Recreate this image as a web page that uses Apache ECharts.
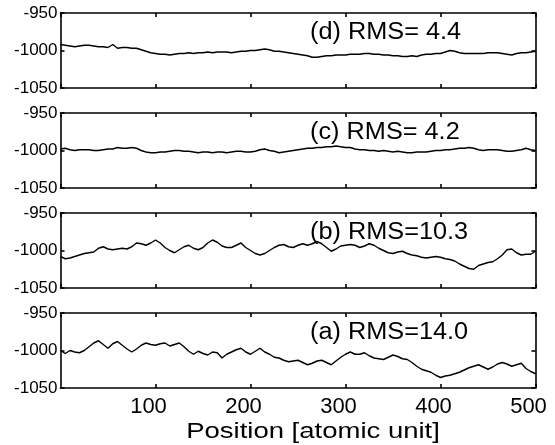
<!DOCTYPE html>
<html><head><meta charset="utf-8">
<script src="https://cdn.jsdelivr.net/npm/echarts@6/dist/echarts.min.js"></script>
<style>html,body{margin:0;padding:0;background:#fff}#c{width:555px;height:445px}</style>
</head><body><div id="c"></div>
<script>
// Positions (atomic units), shared by all panels
var positions = [];
for (var p = 0; p <= 500; p += 5) positions.push(p);

var seriesD = [-992,-993,-994,-995,-994,-993,-993,-994,-995,-995,-996,-992,-997,-996,-996,-997,-997,-999,-1001,-1003,
 -1004,-1005,-1005,-1006,-1005,-1004,-1004,-1003,-1004,-1003,-1003,-1002,-1003,-1002,-1002,-1002,-1003,-1002,-1001,-1001,
 -1000,-1000,-999,-998,-999,-1001,-1001,-1002,-1003,-1004,-1005,-1006,-1007,-1009,-1009,-1008,-1007,-1007,-1006,-1006,
 -1006,-1005,-1005,-1005,-1004,-1004,-1005,-1005,-1006,-1006,-1007,-1007,-1008,-1008,-1007,-1008,-1006,-1005,-1005,-1004,
 -1004,-1002,-1000,-1001,-1003,-1004,-1004,-1004,-1004,-1004,-1003,-1003,-1003,-1004,-1005,-1006,-1004,-1003,-1003,-1002,-1001];

var seriesC = [-998,-997,-999,-1000,-999,-999,-999,-1000,-1000,-999,-998,-998,-996,-997,-997,-996,-997,-1000,-1002,-1003,
 -1003,-1002,-1002,-1001,-1000,-1000,-1001,-1001,-1002,-1003,-1002,-1002,-1003,-1002,-1002,-1003,-1002,-1001,-1001,-1002,
 -1002,-1001,-999,-998,-1000,-1001,-1003,-1002,-1001,-1000,-999,-998,-997,-997,-996,-996,-995,-995,-994,-995,
 -996,-996,-998,-999,-999,-1000,-1000,-1001,-1000,-1001,-1002,-1001,-1002,-1003,-1003,-1002,-1002,-1002,-1001,-1000,
 -1000,-999,-999,-998,-997,-997,-996,-997,-999,-1000,-999,-999,-999,-1000,-1001,-1001,-1000,-999,-997,-999,-1000];

var seriesB = [-1008,-1011,-1010,-1008,-1006,-1004,-1003,-1002,-997,-995,-998,-999,-998,-997,-998,-995,-990,-991,-993,-990,
 -986,-990,-996,-1000,-1003,-999,-995,-993,-997,-999,-996,-990,-986,-989,-994,-996,-996,-993,-990,-996,
 -1000,-1004,-1006,-1004,-1000,-996,-993,-992,-995,-996,-993,-991,-993,-991,-988,-991,-996,-1001,-998,-994,
 -993,-992,-993,-996,-994,-991,-993,-997,-1000,-1003,-1004,-1002,-1001,-1004,-1006,-1007,-1009,-1010,-1009,-1008,
 -1009,-1011,-1012,-1014,-1018,-1021,-1024,-1025,-1020,-1018,-1016,-1015,-1011,-1006,-999,-998,-1003,-1006,-1005,-1005,-1001];

var seriesA = [-1000,-1004,-1000,-1002,-1003,-1000,-995,-990,-987,-992,-997,-991,-988,-993,-998,-1002,-998,-993,-990,-992,
 -993,-991,-990,-994,-992,-990,-995,-1001,-1005,-1001,-1004,-1006,-1002,-1003,-1010,-1005,-1002,-999,-997,-1002,
 -1005,-1001,-997,-1002,-1005,-1009,-1010,-1013,-1015,-1014,-1013,-1016,-1019,-1017,-1014,-1013,-1016,-1019,-1014,-1009,
 -1005,-1002,-1005,-1005,-1003,-1007,-1010,-1011,-1012,-1009,-1006,-1008,-1011,-1012,-1016,-1021,-1025,-1027,-1029,-1033,
 -1036,-1034,-1033,-1031,-1029,-1026,-1023,-1021,-1019,-1022,-1025,-1022,-1018,-1016,-1018,-1021,-1019,-1017,-1024,-1028,-1031];

// Panels from top to bottom
var panelData = [seriesD, seriesC, seriesB, seriesA];
var panelLabels = ['(d) RMS= 4.4', '(c) RMS= 4.2', '(b) RMS=10.3', '(a) RMS=14.0'];
var xTicks = [0, 500, 100];      // min, max, interval
var yTicks = [-1050, -950, 50];  // min, max, interval
var xTitle = 'Position [atomic unit]';

var chart = echarts.init(document.getElementById('c'), null, {renderer: 'canvas'});
var FONT = 'Liberation Sans, Arial, sans-serif';
var grids = [], xAxes = [], yAxes = [], series = [], graphics = [];
var tops = [13, 113, 213, 313];
var lineStyle = {color: '#000', width: 1.6};
panelData.forEach(function (vals, i) {
  grids.push({left: 60.5, width: 475, top: tops[i], height: 75, containLabel: false});
  var isBottom = (i === panelData.length - 1);
  xAxes.push({type: 'value', gridIndex: i, position: 'bottom', min: xTicks[0], max: xTicks[1], interval: xTicks[2],
    axisLine: {show: true, onZero: false, lineStyle: lineStyle},
    axisTick: {show: true, inside: true, length: 4, lineStyle: lineStyle},
    axisLabel: {show: isBottom, showMinLabel: false, color: '#000', fontSize: 22, fontFamily: FONT, margin: 8,
      padding: [0, 14, 0, 0]},
    splitLine: {show: false}});
  xAxes.push({type: 'value', gridIndex: i, position: 'top', min: xTicks[0], max: xTicks[1], interval: xTicks[2],
    axisLine: {show: true, onZero: false, lineStyle: lineStyle},
    axisTick: {show: true, inside: true, length: 4, lineStyle: lineStyle},
    axisLabel: {show: false}, splitLine: {show: false}});
  yAxes.push({type: 'value', gridIndex: i, position: 'left', min: yTicks[0], max: yTicks[1], interval: yTicks[2],
    axisLine: {show: true, onZero: false, lineStyle: lineStyle},
    axisTick: {show: true, inside: true, length: 4, lineStyle: lineStyle},
    axisLabel: {show: true, color: '#000', fontSize: 17, fontFamily: FONT, margin: 3,
      formatter: function (v) { return String(v); }},
    splitLine: {show: false}});
  yAxes.push({type: 'value', gridIndex: i, position: 'right', min: yTicks[0], max: yTicks[1], interval: yTicks[2],
    axisLine: {show: true, onZero: false, lineStyle: lineStyle},
    axisTick: {show: true, inside: true, length: 4, lineStyle: lineStyle},
    axisLabel: {show: false}, splitLine: {show: false}});
  series.push({type: 'line', xAxisIndex: 2 * i, yAxisIndex: 2 * i, showSymbol: false, symbol: 'none',
    data: positions.map(function (x, k) { return [x, vals[k]]; }),
    lineStyle: {color: '#000', width: 1.4}, animation: false});
  graphics.push({type: 'text', x: 310, y: tops[i] + 20, scaleX: 1.1, originX: 0, originY: 0,
    style: {text: panelLabels[i], fill: '#000', fontSize: 23, fontFamily: FONT, textVerticalAlign: 'middle'}});
});
graphics.push({type: 'text', x: 313, y: 432, scaleX: 1.25,
  style: {text: xTitle, fill: '#000', fontSize: 22, fontFamily: FONT, textAlign: 'center', textVerticalAlign: 'middle'}});

chart.setOption({
  animation: false,
  grid: grids, xAxis: xAxes, yAxis: yAxes, series: series, graphic: graphics
});
</script></body></html>
